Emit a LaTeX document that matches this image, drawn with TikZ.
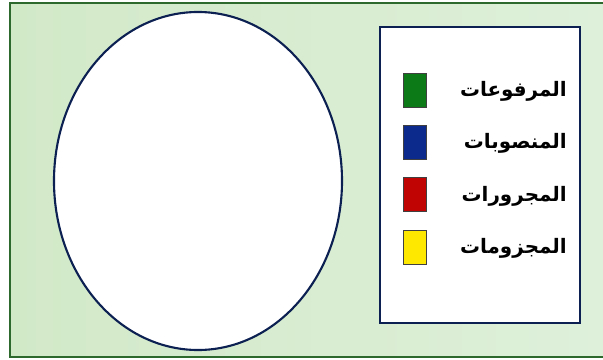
\documentclass[tikz,border=0pt]{standalone}
\usepackage{fontspec}
\usepackage{xcolor}
\usepackage{tikz}
\TeXXeTstate=1
\newfontfamily\arabicfont[Script=Arabic]{DejaVu Sans}
\definecolor{bgleft}{RGB}{210,233,200}
\definecolor{bgright}{RGB}{222,240,218}
\definecolor{framegreen}{RGB}{45,105,45}
\definecolor{navy}{RGB}{12,32,82}
\definecolor{keygreen}{RGB}{12,122,22}
\definecolor{keyblue}{RGB}{12,42,140}
\definecolor{keyred}{RGB}{192,4,4}
\definecolor{keyyellow}{RGB}{255,232,0}

\begin{document}
\begin{tikzpicture}[x=0.03cm,y=-0.03cm,
  frame/.style={draw=framegreen,line width=2pt,left color=bgleft,right color=bgright},
  oval/.style={draw=navy,line width=1.8pt,fill=white},
  keybox/.style={draw=navy,line width=1.8pt,fill=white},
  swatch/.style={draw=black!75,line width=0.7pt,minimum width=0.69cm,minimum height=1.02cm,inner sep=0pt},
  keylab/.style={font=\arabicfont\bfseries\fontsize{17}{20}\selectfont,anchor=east,inner sep=0pt}]
\useasboundingbox (0,0) rectangle (603,360);
\clip (0,0) rectangle (603,360);
\fill[white] (0,0) rectangle (603,360);
\draw[frame] (10,3) rectangle (612,357);
% left: empty oval
\draw[oval] (198,181) ellipse [x radius=4.32cm, y radius=5.07cm];
% right: key
\draw[keybox] (380,27) rectangle (580,323);
\foreach \c/\t [count=\i] in {keygreen/المرفوعات,keyblue/المنصوبات,keyred/المجرورات,keyyellow/المجزومات} {
  \node[swatch,fill=\c] (sw\i) at (414.5,38+52.3*\i) {};
  \node[keylab] (lab\i) at (567,39+52.3*\i) {\beginR \t\endR};
}
\end{tikzpicture}
\end{document}
